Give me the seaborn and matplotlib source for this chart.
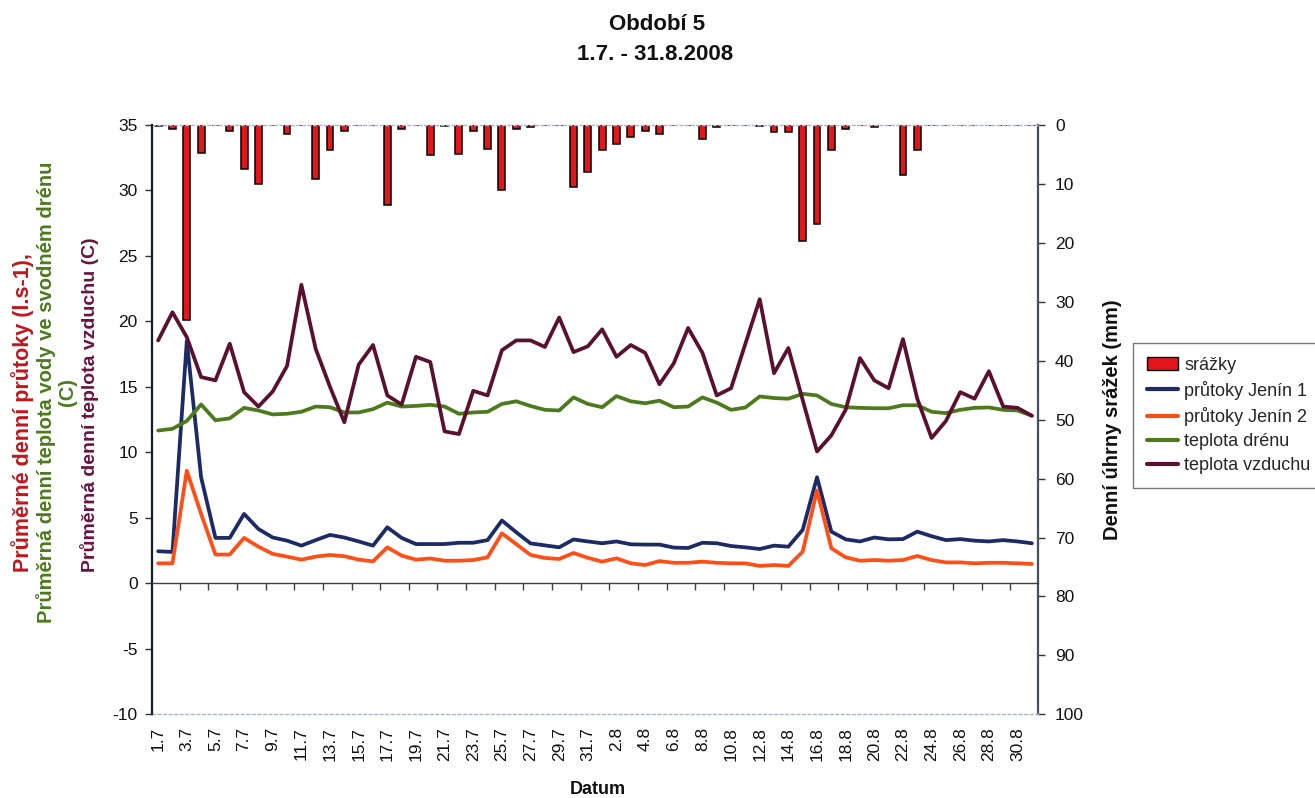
import numpy as np
import pandas as pd
import matplotlib
matplotlib.use("Agg")
import matplotlib.pyplot as plt
from matplotlib.patches import Patch
from matplotlib.lines import Line2D
import seaborn as sns

# Daily observations, 1 July - 31 August 2008
dates = [
    "1.7", "2.7", "3.7", "4.7", "5.7", "6.7", "7.7", "8.7", "9.7", "10.7",
    "11.7", "12.7", "13.7", "14.7", "15.7", "16.7", "17.7", "18.7", "19.7", "20.7",
    "21.7", "22.7", "23.7", "24.7", "25.7", "26.7", "27.7", "28.7", "29.7", "30.7",
    "31.7", "1.8", "2.8", "3.8", "4.8", "5.8", "6.8", "7.8", "8.8", "9.8",
    "10.8", "11.8", "12.8", "13.8", "14.8", "15.8", "16.8", "17.8", "18.8", "19.8",
    "20.8", "21.8", "22.8", "23.8", "24.8", "25.8", "26.8", "27.8", "28.8", "29.8",
    "30.8", "31.8",
]

# daily precipitation (mm)
rain_mm = [
    0.2, 0.7, 33.1, 4.7, 0.0, 1.0, 7.5, 10.0, 0.0, 1.6,
    0.0, 9.2, 4.2, 1.0, 0.0, 0.0, 13.6, 0.7, 0.0, 5.1,
    0.2, 5.0, 1.0, 4.0, 11.0, 0.6, 0.4, 0.0, 0.0, 10.5,
    8.0, 4.2, 3.2, 2.0, 1.0, 1.6, 0.0, 0.0, 2.4, 0.3,
    0.0, 0.0, 0.2, 1.2, 1.2, 19.6, 16.8, 4.2, 0.7, 0.0,
    0.3, 0.0, 8.4, 4.2, 0.0, 0.0, 0.0, 0.0, 0.0, 0.0,
    0.0, 0.0,
]

# mean daily discharge (l/s)
flow_jenin1 = [
    2.45, 2.4, 18.5, 8.1, 3.47, 3.47, 5.3, 4.15, 3.5, 3.26,
    2.88, 3.3, 3.7, 3.5, 3.2, 2.88, 4.28, 3.47, 3.0, 3.0,
    3.0, 3.1, 3.1, 3.3, 4.8, 3.9, 3.05, 2.9, 2.75, 3.35,
    3.2, 3.06, 3.2, 2.98, 2.96, 2.96, 2.73, 2.7, 3.1, 3.06,
    2.85, 2.75, 2.62, 2.88, 2.8, 4.08, 8.1, 3.95, 3.36, 3.2,
    3.5, 3.36, 3.38, 3.95, 3.6, 3.3, 3.38, 3.26, 3.2, 3.3,
    3.2, 3.06,
]
flow_jenin2 = [
    1.53, 1.53, 8.6, 5.3, 2.2, 2.2, 3.47, 2.8, 2.25, 2.04,
    1.81, 2.04, 2.17, 2.07, 1.81, 1.68, 2.75, 2.12, 1.81, 1.9,
    1.73, 1.73, 1.78, 1.99, 3.82, 3.0, 2.17, 1.94, 1.86, 2.32,
    1.95, 1.66, 1.91, 1.53, 1.4, 1.7, 1.57, 1.57, 1.66, 1.57,
    1.53, 1.53, 1.33, 1.4, 1.33, 2.42, 7.1, 2.68, 1.99, 1.73,
    1.78, 1.73, 1.78, 2.09, 1.78, 1.6, 1.6, 1.53, 1.57, 1.57,
    1.53, 1.48,
]

# mean daily temperatures (C)
temp_drain = [
    11.67, 11.8, 12.4, 13.66, 12.45, 12.6, 13.4, 13.2, 12.9, 12.95,
    13.1, 13.5, 13.45, 13.05, 13.05, 13.3, 13.8, 13.5, 13.55, 13.63,
    13.5, 12.95, 13.05, 13.1, 13.7, 13.9, 13.54, 13.25, 13.2, 14.2,
    13.7, 13.45, 14.3, 13.9, 13.75, 13.95, 13.45, 13.5, 14.2, 13.8,
    13.25, 13.43, 14.27, 14.15, 14.1, 14.47, 14.35, 13.7, 13.45, 13.4,
    13.37, 13.37, 13.6, 13.6, 13.1, 13.0, 13.25, 13.4, 13.43, 13.25,
    13.2, 12.8,
]
temp_air = [
    18.55, 20.7, 18.8, 15.75, 15.5, 18.3, 14.6, 13.5, 14.65, 16.6,
    22.8, 17.9, 15.0, 12.3, 16.7, 18.2, 14.35, 13.65, 17.3, 16.9,
    11.6, 11.4, 14.7, 14.35, 17.8, 18.55, 18.55, 18.05, 20.3, 17.66,
    18.1, 19.4, 17.3, 18.2, 17.6, 15.2, 16.8, 19.5, 17.6, 14.35,
    14.9, 18.3, 21.7, 16.05, 17.97, 14.0, 10.07, 11.3, 13.25, 17.2,
    15.5, 14.9, 18.65, 14.1, 11.1, 12.4, 14.6, 14.1, 16.2, 13.5,
    13.4, 12.8,
]

series_names = ["srážky", "průtoky Jenín 1", "průtoky Jenín 2",
                "teplota drénu", "teplota vzduchu"]

C_RAIN = "#E3161C"
C_J1 = "#1C2A66"
C_J2 = "#FF4F17"
C_DRAIN = "#4C7A1C"
C_AIR = "#5A1030"

sns.set_theme(style="white")
plt.rcParams["font.family"] = ["Liberation Sans", "DejaVu Sans"]
plt.rcParams["axes.unicode_minus"] = False

W, H = 1315, 798
fig = plt.figure(figsize=(W / 100, H / 100), dpi=100)
fig.patch.set_facecolor("white")

x0, x1, ytop, ybot = 151.7, 1038.3, 125.0, 714.3
ax = fig.add_axes([x0 / W, 1 - ybot / H, (x1 - x0) / W, (ybot - ytop) / H])
ax2 = ax.twinx()

df = pd.DataFrame({
    "day": np.arange(len(dates)),
    "date": dates,
    "rain": rain_mm,
    "j1": flow_jenin1,
    "j2": flow_jenin2,
    "drain": temp_drain,
    "air": temp_air,
})

# precipitation bars hanging from the top (inverted secondary axis)
sns.barplot(data=df, x="day", y="rain", ax=ax2, native_scale=True,
            width=0.48, color=C_RAIN, saturation=1, edgecolor="black",
            linewidth=1.1, errorbar=None)

# discharge and temperature lines on the primary axis
for col, colr in [("j1", C_J1), ("j2", C_J2), ("drain", C_DRAIN), ("air", C_AIR)]:
    sns.lineplot(data=df, x="day", y=col, ax=ax, color=colr, lw=2.7,
                 legend=False)

ax.set_zorder(ax2.get_zorder() + 1)
ax.patch.set_visible(False)

ax.set_xlim(-0.45, len(dates) - 0.55)
ax.set_ylim(-10, 35)
ax.set_yticks(np.arange(-10, 36, 5))
ax2.set_ylim(100, 0)
ax2.set_yticks(np.arange(0, 101, 10))
for a in (ax, ax2):
    a.set_xlabel("")
    a.set_ylabel("")

# category axis crosses at zero; tick marks between every second day
ax.spines["bottom"].set_position(("data", 0))
ax.spines["bottom"].set_color("#3a3f4a")
ax.spines["bottom"].set_linewidth(1.0)
ax.spines["top"].set_visible(False)
ax.spines["right"].set_visible(False)
ax.spines["left"].set_color("#141a30")
ax.spines["left"].set_linewidth(1.6)
ax.set_xticks(np.arange(1.5, len(dates) - 1, 2))
ax.set_xticklabels([])
ax.tick_params(axis="x", bottom=True, direction="out", length=5,
               width=1.0, color="#3a3f4a")
ax.tick_params(axis="y", left=True, direction="out", length=5, width=1.0,
               color="#333333", labelsize=12.5, pad=5, labelcolor="#111111")

ax2.spines["left"].set_visible(False)
ax2.spines["right"].set_color("#46505e")
ax2.spines["right"].set_linewidth(1.6)
for s in ("top", "bottom"):
    ax2.spines[s].set_color("#a8b6d2")
    ax2.spines[s].set_linestyle((0, (2, 2)))
    ax2.spines[s].set_linewidth(1.0)
ax2.tick_params(axis="y", right=True, direction="out", length=5, width=1.0,
                color="#333333", labelsize=12.5, pad=7, labelcolor="#111111")

# date labels along the bottom of the plot area
sec = ax.secondary_xaxis("bottom")
sec.set_xticks(df["day"][::2], labels=df["date"][::2])
sec.tick_params(length=0, labelsize=12.5, labelrotation=90, pad=9,
                labelcolor="#111111")
sec.spines["bottom"].set_visible(False)

# titles
fig.text(657 / W, 1 - 25 / H, "Období 5", ha="center", va="center",
         fontsize=16, weight="bold", color="#111111")
fig.text(655 / W, 1 - 55 / H, "1.7. - 31.8.2008", ha="center", va="center",
         fontsize=16, weight="bold", color="#111111")
fig.text(598 / W, 1 - 790 / H, "Datum", ha="center", va="center",
         fontsize=13, weight="bold", color="#111111")

# left axis titles (one line per colour)
fig.text(23 / W, 1 - 572 / H, "Průměrné denní průtoky (l.s-1),",
         rotation=90, ha="center", va="bottom", fontsize=15.5,
         weight="bold", color="#C0161C")
fig.text(46 / W, 1 - 392 / H, "Průměrná denní teplota vody ve svodném drénu",
         rotation=90, ha="center", va="center", fontsize=14.5,
         weight="bold", color=C_DRAIN)
fig.text(68 / W, 1 - 392 / H, "(C)", rotation=90, ha="center", va="center",
         fontsize=14.5, weight="bold", color=C_DRAIN)
fig.text(90 / W, 1 - 572 / H, "Průměrná denní teplota vzduchu (C)",
         rotation=90, ha="center", va="bottom", fontsize=14,
         weight="bold", color="#6A1242")

# right axis title
fig.text(1113 / W, 1 - 420 / H, "Denní úhrny srážek (mm)", rotation=90,
         ha="center", va="center", fontsize=14.5, weight="bold",
         color="#111111")

# legend
handles = [
    Patch(facecolor=C_RAIN, edgecolor="black", linewidth=1.0),
    Line2D([], [], color=C_J1, lw=3),
    Line2D([], [], color=C_J2, lw=3),
    Line2D([], [], color=C_DRAIN, lw=3),
    Line2D([], [], color=C_AIR, lw=3),
]
leg = fig.legend(handles, series_names, loc="upper left",
                 bbox_to_anchor=(1133 / W, 1 - 343 / H), fontsize=13,
                 frameon=True, fancybox=False, edgecolor="#555555",
                 handlelength=1.75, handleheight=0.7, handletextpad=0.35,
                 labelspacing=0.4, borderpad=0.75, borderaxespad=0)
leg.get_frame().set_linewidth(1.0)

fig.savefig("out.png", dpi=100, facecolor="white")
